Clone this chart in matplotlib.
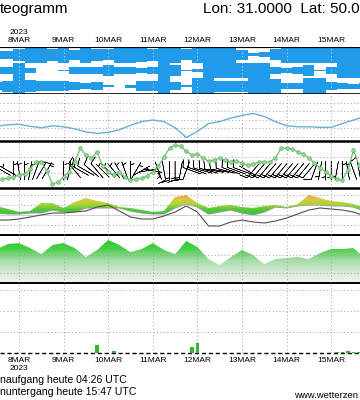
import numpy as np
import matplotlib
matplotlib.use("Agg")
import matplotlib.pyplot as plt
from matplotlib.colors import LinearSegmentedColormap
from matplotlib.path import Path

plt.rcParams['font.family'] = ['Liberation Sans', 'DejaVu Sans']

# ---- data (days since 8 MAR 2023 00 UTC) ----
days = ['8MAR', '9MAR', '10MAR', '11MAR', '12MAR', '13MAR', '14MAR', '15MAR']
year = '2023'

# 6-hourly series
t6 = np.arange(34) * 0.25 - 0.5
cloud_high = [0.5, 0.5, 0.8, 1, 1, 0.8, 1, 0.6, 1, 0.8, 0.7, 1, 1, 0.9, 0.8, 1, 1,
              0.7, 1, 1, 1, 1, 0.6, 0.2, 0.3, 0.7, 1, 1, 1, 1, 1, 1, 1, 1]
cloud_mid = [0.4, 0.5, 0.9, 0.3, 0.0, 0.0, 0.1, 0.4, 0.5, 0.4, 0.7, 0.5, 0.4, 0.3, 0.4, 0.9,
             0.7, 0.1, 0.2, 1, 1, 1, 1, 0.9, 0.9, 0.5, 0.3, 0.4, 0.7, 0.1, 0.5, 1, 1, 1]
cloud_low = [0.5, 0.7, 1, 0.8, 0.6, 0.6, 0.6, 0.5, 0.4, 0.5, 0.1, 0.0, 0.2, 0.6, 0.6, 1, 0.5,
             0.1, 1, 1, 0.7, 0.7, 0.7, 1, 1, 0.9, 0.4, 0.4, 1, 1, 0.5, 0.4, 0.3, 0.4]
pressure = [1001.1, 1002.0, 1002.3, 1001.1, 1000.2, 1001.4, 1000.8, 999.6, 997.8, 996.9,
            997.5, 999.0, 1001.7, 1003.9, 1004.8, 1003.9, 1000.2, 994.5, 998.1, 1002.7,
            1003.9, 1006.0, 1007.5, 1008.7, 1006.9, 1003.9, 1001.4, 1000.8, 1000.8, 1000.5,
            1000.5, 1002.7, 1004.8, 1006.9]
temp_max = [4.5, 3, 1.5, 2, 6, 6, 3.5, 6.5, 8.5, 7, 6, 4, 3.5, 2.5, 1.5, 2, 9, 10, 6, 3.5,
            4.5, 5, 4, 3.5, 4.5, 5, 4, 5.5, 10, 8.5, 7, 6.5, 5.5, 3.5]
temp_min = [1, 0.5, 0.5, 1, 1, 2.5, 1.5, 1.5, 3.5, 3.5, 3.5, 3.5, 2, 1, 0.5, 0.5, 3.5, 5.5,
            4, 0.5, 1.5, 2.5, 1, 0, 1.5, 4, 3.5, 4.5, 5, 5, 4.5, 4.5, 4, 2]
dewpoint = [-2.5, -2.5, -2, -1, 0, 1, 1, 1.5, 2, 4, 5, 2, -1, -2, -2, -0.5, 1.5, 4.5, 1.5,
            -5.5, -5.5, -3.5, -2.5, -3.5, -4, -3, -1.5, 0.5, 2.5, 3.5, 3, 2.5, 1.5, -0.5]
humidity = [66.7, 72.2, 73.3, 67.8, 61.1, 71.1, 73.3, 67.8, 57.8, 65.6, 76.7, 71.1, 63.3,
            66.7, 73.3, 65.6, 61.1, 75.6, 68.9, 55.6, 48.9, 57.8, 65.6, 60.0, 50.0, 55.6,
            56.7, 57.8, 55.6, 62.2, 66.7, 66.7, 67.8, 56.7]

# 3-hourly wind
t3 = np.arange(65) * 0.125 - 0.375
wind_speed = [2.9, 3.2, 3.5, 4.2, 4.5, 6.1, 8.4, 8.4, 5.5, 1.3, 1.9, 3.5, 5.2, 8.4, 12.9,
              10.6, 9.7, 11.6, 7.1, 5.2, 4.2, 5.2, 3.5, 2.6, 2.9, 3.2, 3.9, 5.2, 7.1, 10.0,
              12.9, 13.9, 13.5, 11.9, 10.6, 11.0, 9.7, 8.7, 9.0, 9.7, 9.0, 8.4, 8.7, 8.1,
              7.4, 7.7, 8.4, 8.4, 8.4, 9.7, 12.9, 12.9, 12.6, 11.6, 11.0, 9.7, 8.1, 6.5,
              5.2, 3.9, 2.9, 2.6, 5.8, 12.3, 7.4]
wind_dir = [300, 300, 0, 350, 0, 10, 20, 30, 30, 0, 350, 0, 10, 320, 300, 300, 310, 320,
            315, 315, 320, 330, 340, 0, 30, 60, 80, 100, 160, 170, 180, 180, 190, 200,
            290, 290, 285, 285, 280, 280, 285, 290, 290, 290, 300, 220, 220, 220, 220,
            220, 220, 220, 220, 220, 220, 220, 200, 190, 180, 180, 190, 0, 350, 340, 350]

# precipitation (mm / 3h)
precip_t = [1.75, 2.125, 3.875, 4.0, 7.125, 7.25, 7.375, 7.5, 7.625]
precip = [0.38, 0.1, 0.29, 0.48, 0.07, 0.07, 0.08, 0.07, 0.06]

# ---- figure ----
W, H = 360, 400
fig = plt.figure(figsize=(3.6, 4.0), dpi=100)
XL = (-0.426, 7.646)
grid_kw = dict(color='#a0a0a0', lw=0.7, ls=(0, (1, 2.5)))
small = ['Liberation Sans Narrow', 'Liberation Sans']


def panel(top, bottom, ylim):
    ax = fig.add_axes([0, 1 - bottom / H, 1, (bottom - top) / H])
    ax.set_xlim(*XL)
    ax.set_ylim(*ylim)
    for s in ax.spines.values():
        s.set_visible(False)
    ax.set_xticks([])
    ax.set_yticks([])
    ax.patch.set_alpha(0)
    return ax


def day_lines(ax, color='#a0a0a0'):
    for d in range(len(days)):
        ax.axvline(d, color=color, lw=0.7, ls=(0, (1, 2.5)), zorder=5)


def gradient_fill(ax, x, lo, hi, colors, vmin, vmax):
    poly = ax.fill_between(x, lo, hi, color='none', lw=0)
    path = Path.make_compound_path(*poly.get_paths())
    cmap = LinearSegmentedColormap.from_list('g', colors)
    grad = np.linspace(0, 1, 256).reshape(-1, 1)
    im = ax.imshow(grad, cmap=cmap, aspect='auto', origin='lower',
                   extent=[XL[0], XL[1], vmin, vmax], zorder=2)
    im.set_clip_path(path, transform=ax.transData)
    ax.set_xlim(*XL)


# clouds
ax = panel(47, 94, (0, 3))
blue = '#1f9bea'
for i, cov in enumerate([cloud_low, cloud_mid, cloud_high]):
    c = np.array(cov)
    ax.fill_between(t6, i + 0.5 - c / 2, i + 0.5 + c / 2, step='mid', color=blue, lw=0)
day_lines(ax, '#d8d8d8')
ax.axhline(3, color='black', lw=1.6)
ax.axhline(0, color='black', lw=1.2)

# top date labels
for d, lab in enumerate(days):
    ax.text(d, 1 + 6 / 47, lab, transform=ax.get_xaxis_transform(), ha='center',
            va='center', fontsize=6, family=small)
ax.text(0, 1 + 14 / 47, year, transform=ax.get_xaxis_transform(), ha='center',
        va='center', fontsize=6, family=small)

# pressure
ax = panel(94, 141, (992.4, 1020.2))
for p in [995, 1000, 1005, 1010, 1015]:
    ax.axhline(p, **grid_kw)
day_lines(ax)
ax.plot(t6, pressure, color='#6aaed6', lw=1.0)

# wind
ax = panel(141, 188, (0, 15.2))
for s in [5, 10]:
    ax.axhline(s, **grid_kw)
day_lines(ax)
ax.axhline(15.2, color='black', lw=1.8, clip_on=False)
ax.axhline(0, color='black', lw=1.8, clip_on=False)
sp = np.array(wind_speed)
dr = np.radians(wind_dir)
u = -sp * np.sin(dr)
v = -sp * np.cos(dr)
ax.barbs(t3, np.full(len(t3), 5.6), u, v, length=5.2, pivot='middle', lw=0.4,
         color='black', zorder=3, sizes=dict(emptybarb=0))
ax.plot(t3, sp, color='#6cc06c', lw=0.9, marker='o', ms=2.6, mfc='#9ad89a',
        mec='#5cb05c', mew=0.5, zorder=4)

# temperature
ax = panel(188, 235, (-10, 13.5))
for tv in [10, 5, -5]:
    ax.axhline(tv, **grid_kw)
ax.axhline(0, color='#d0d0d0', lw=0.8)
day_lines(ax)
ax.plot(t6, temp_min, color='#b888c8', lw=0.8, zorder=1)
gradient_fill(ax, t6, temp_min, temp_max,
              ['#3cc43c', '#50c83c', '#a8d43a', '#e0c840', '#e8a040'], 0, 10.5)
ax.plot(t6, dewpoint, color='#505050', lw=0.8, zorder=3)
ax.set_ylim(-10, 13.5)
ax.axhline(-10, color='black', lw=1.4, clip_on=False)

# humidity
ax = panel(235, 283, (29, 82.3))
gradient_fill(ax, t6, np.full(len(t6), 29), humidity,
              ['#f2f6f2', '#d6e8d6', '#a8dca8', '#4cd04c', '#18c818'], 29, 78)
for h in [40, 60]:
    ax.axhline(h, **grid_kw)
day_lines(ax)
ax.set_ylim(29, 82.3)
ax.axhline(29, color='black', lw=1.4, clip_on=False)

# precipitation
ax = panel(283, 353, (0, 3.33))
for r in [1, 2, 3]:
    ax.axhline(r, **grid_kw)
day_lines(ax)
ax.bar(precip_t, precip, width=0.08, color='#2fb82f', zorder=3)
ax.axhline(0, color='black', lw=1.0, ls=(0, (3, 2)), clip_on=False)
for d, lab in enumerate(days):
    ax.text(d, -8 / 70, lab, transform=ax.get_xaxis_transform(), ha='center',
            va='center', fontsize=6, family=small)
ax.text(0, -16 / 70, year, transform=ax.get_xaxis_transform(), ha='center',
        va='center', fontsize=6, family=small)

# header / footer texts
fig.text(0, 1 - 9 / H, 'teogramm', fontsize=11, ha='left', va='center')
fig.text(203 / W, 1 - 9 / H, 'Lon: 31.0000  Lat: 50.0', fontsize=11, ha='left', va='center')
fig.text(0, 1 - 380 / H, 'naufgang heute 04:26 UTC', fontsize=7.6, ha='left', va='center')
fig.text(0, 1 - 392 / H, 'nuntergang heute 15:47 UTC', fontsize=7.6, ha='left', va='center')
fig.text(358 / W, 1 - 395 / H, 'www.wetterzen', fontsize=6.8, ha='right', va='center')

fig.savefig('out.png', dpi=100, facecolor='white')
